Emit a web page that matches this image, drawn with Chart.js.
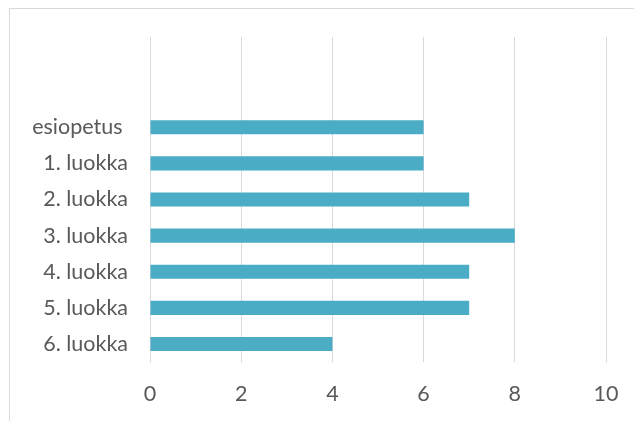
<!DOCTYPE html>
<html lang="fi">
<head>
<meta charset="UTF-8">
<title>Luokat</title>
<script src="https://cdn.jsdelivr.net/npm/chart.js@4/dist/chart.umd.min.js"></script>
<style>
  body { margin: 0; background: #fff; }
  #wrap { position: relative; width: 634px; height: 421px; overflow: hidden; }
  #frame { position: absolute; left: 9px; top: 8px; width: 700px; height: 500px; border: 1px solid #d9d9d9; }
  canvas { position: absolute; left: 0; top: 0; }
</style>
</head>
<body>
<div id="wrap">
  <div id="frame"></div>
  <canvas id="myChart" width="634" height="421"></canvas>
</div>
<script>
// luokat ylhäältä alas, kaksi tyhjää paikkaa ylimpänä
const categories = ['', '', 'esiopetus ', '1. luokka', '2. luokka', '3. luokka', '4. luokka', '5. luokka', '6. luokka'];
const values = [null, null, 6, 6, 7, 8, 7, 7, 4];
const xTicks = [0, 2, 4, 6, 8, 10];

const textColor = '#595959';
const font = { family: 'Lato, "Open Sans", sans-serif', size: 21.5 };

const ctx = document.getElementById('myChart').getContext('2d');
const myChart = new Chart(ctx, {
  type: 'bar',
  data: {
    labels: categories,
    datasets: [{
      data: values,
      backgroundColor: '#4bacc6',
      borderWidth: 0,
      barPercentage: 0.39,
      categoryPercentage: 1
    }]
  },
  options: {
    indexAxis: 'y',
    responsive: false,
    animation: false,
    layout: { padding: { left: 0, right: 28, top: 37, bottom: 0 } },
    plugins: { legend: { display: false }, tooltip: { enabled: false } },
    scales: {
      x: {
        min: xTicks[0],
        max: xTicks[xTicks.length - 1],
        afterBuildTicks: (axis) => { axis.ticks = xTicks.map(v => ({ value: v })); },
        afterFit: (axis) => {
          axis.height = 59;
          axis.paddingLeft = 0;
          axis.paddingRight = 0;
        },
        grid: { color: '#d9d9d9', lineWidth: 1, drawTicks: false },
        border: { display: false },
        ticks: { color: textColor, font: font, padding: 19 }
      },
      y: {
        afterFit: (axis) => {
          axis.width = 150;
          axis.paddingTop = 0;
          axis.paddingBottom = 0;
        },
        grid: { display: false, drawTicks: false },
        border: { display: false },
        ticks: { color: textColor, font: font, padding: 22 }
      }
    }
  }
});
</script>
</body>
</html>
